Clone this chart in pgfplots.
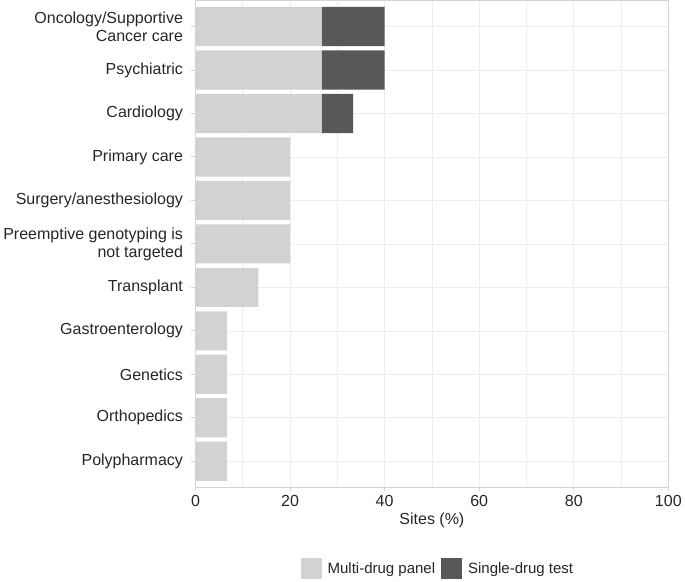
\documentclass[border=0pt]{standalone}
\usepackage{fontspec}
\setmainfont{Liberation Sans}
\usepackage{pgfplots}
\pgfplotsset{compat=1.18}
\definecolor{multi}{HTML}{D1D2D4}
\definecolor{single}{HTML}{58585A}
\definecolor{gridc}{HTML}{EDEDED}
\definecolor{framec}{HTML}{D4D4D4}
\definecolor{txt}{HTML}{262626}
\begin{document}
\begin{tikzpicture}
\begin{axis}[
  scale only axis, width=473pt, height=487pt,
  xbar stacked, bar width=0.9,
  xmin=0, xmax=100, ymin=-0.6, ymax=10.6,
  y dir=reverse,
  ytick={0,...,10},
  yticklabels={{Oncology/Supportive\\Cancer care},Psychiatric,Cardiology,Primary care,Surgery/anesthesiology,{Preemptive genotyping is\\not targeted},Transplant,Gastroenterology,Genetics,Orthopedics,Polypharmacy},
  yticklabel style={align=right, font=\fontsize{16}{18}\selectfont, text=txt, xshift=-5pt},
  xticklabel style={font=\fontsize{16}{18}\selectfont, text=txt},
  /pgf/number format/assume math mode=true,
  xtick={0,20,...,100}, minor xtick={10,30,...,90},
  xmajorgrids, xminorgrids, ymajorgrids,
  grid style={gridc, line width=0.6pt},
  minor grid style={gridc, line width=0.6pt},
  axis line style={framec, line width=0.9pt},
  tick style={framec, line width=0.9pt},
  major tick length=4pt, minor tick length=0pt,
  tick align=outside, tick pos=left,
  xlabel={Sites (\%)},
  xlabel style={font=\fontsize{16}{18}\selectfont, text=txt},
  legend columns=2,
  legend style={draw=none, at={(0.5,0)}, anchor=north, yshift=-69pt, xshift=6pt,
    font=\fontsize{15}{17}\selectfont, text=txt,
    /tikz/every even column/.append style={column sep=4pt}},
  legend image code/.code={\fill[#1] (0pt,-10.5pt) rectangle (21pt,10.5pt); \path (25pt,0pt);},
]
\addplot[fill=multi, draw=none] coordinates {(26.67,0) (26.67,1) (26.67,2) (20,3) (20,4) (20,5) (13.33,6) (6.67,7) (6.67,8) (6.67,9) (6.67,10)};
\addplot[fill=single, draw=none] coordinates {(13.33,0) (13.33,1) (6.67,2) (0,3) (0,4) (0,5) (0,6) (0,7) (0,8) (0,9) (0,10)};
\legend{Multi-drug panel, Single-drug test}
\end{axis}
\end{tikzpicture}
\end{document}
